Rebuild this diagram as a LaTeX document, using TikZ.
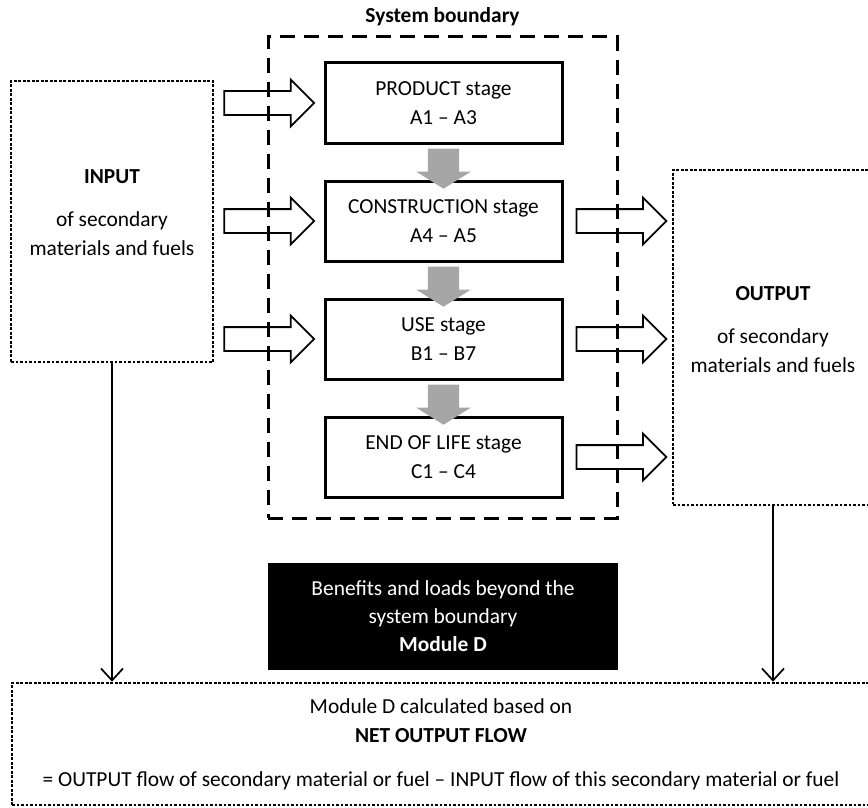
\documentclass[tikz,border=0pt]{standalone}
\usepackage{fontspec}
\setmainfont{Carlito}
\usetikzlibrary{shapes.arrows,arrows.meta,calc}

\begin{document}
\begin{tikzpicture}[x=1pt,y=-1pt,font=\fontsize{21.4}{29.5}\selectfont]
    \tikzstyle{stage}=[draw,line width=3pt,minimum width=237pt,minimum height=80pt,align=center,inner sep=0pt]
    \tikzstyle{flow box}=[draw,line width=2.6pt,dash pattern=on 2.6pt off 1.9pt,inner sep=0pt]
    \tikzstyle{boundary}=[draw,line width=3pt,dash pattern=on 15pt off 9pt,inner sep=0pt]
    \tikzstyle{flow arrow}=[single arrow,draw,line width=1.8pt,inner xsep=0pt,inner ysep=11pt,single arrow head extend=11.5pt,minimum height=90pt,minimum width=0pt]
    \tikzstyle{stage arrow}=[single arrow,fill=black!35,rotate=-90,inner xsep=0pt,inner ysep=15.5pt,single arrow head extend=11.5pt,single arrow tip angle=116,minimum height=40pt,minimum width=0pt]
    \tikzstyle{annot}=[align=center,inner sep=0pt]
    \tikzstyle{net line}=[line width=1.7pt,-{Straight Barb[length=12pt,width=22pt]}]
    \useasboundingbox (0,0) rectangle (868,808);
    \clip (0,0) rectangle (868,808);
    % System boundary
    \node[boundary,minimum width=349pt,minimum height=481pt] (sysb) at (442.5,277.5) {};
    \node[annot,font=\fontsize{21.4}{29.5}\selectfont\bfseries] (sysblbl) at ([yshift=19pt]sysb.north) {System boundary};
    % Draw the life cycle stages
    \foreach \name/\y/\txt in {prod/103/{PRODUCT stage\\A1 – A3}, cons/221/{CONSTRUCTION stage\\A4 – A5},
                               use/339/{USE stage\\B1 – B7}, eol/457/{END OF LIFE stage\\C1 – C4}}
        \node[stage] (\name) at (443.5,\y) {\txt};
    \foreach \a/\b in {prod/cons, cons/use, use/eol}
        \node[stage arrow,anchor=tail] (\a-\b) at ([yshift=-4pt]\a.south) {};
    % Input and output of secondary materials
    \node[flow box,minimum width=202pt,minimum height=281pt] (inbox) at (112,221.5) {};
    \node[annot] (inlbl) at (112,213) {\textbf{INPUT}\\[13pt]of secondary\\materials and fuels};
    \node[flow box,minimum width=200pt,minimum height=335pt] (outbox) at (773,337.5) {};
    \node[annot] (outlbl) at (773,330) {\textbf{OUTPUT}\\[13pt]of secondary\\materials and fuels};
    \foreach \s in {prod,cons,use}
        \node[flow arrow,anchor=tail] (in-\s) at ($(inbox.east |- \s.center)+(9pt,0)$) {};
    \foreach \s in {cons,use,eol}
        \node[flow arrow,anchor=tail] (out-\s) at ($(\s.east)+(12pt,0)$) {};
    % Module D
    \node[fill=black,text=white,annot,minimum width=350pt,minimum height=107pt,font=\fontsize{21.4}{28}\selectfont] (modd) at (443,616.5)
        {Benefits and loads beyond the\\system boundary\\\textbf{Module D}};
    \node[flow box,minimum width=858pt,minimum height=122pt] (netbox) at (441,744) {};
    \node[annot] (netlbl) at (441,744) {Module D calculated based on\\\textbf{NET OUTPUT FLOW}\\[14pt]= OUTPUT flow of secondary material or fuel – INPUT flow of this secondary material or fuel};
    \draw[net line] (inbox.south) -- (inbox.south |- netbox.north);
    \draw[net line] (outbox.south) -- (outbox.south |- netbox.north);
\end{tikzpicture}
\end{document}
